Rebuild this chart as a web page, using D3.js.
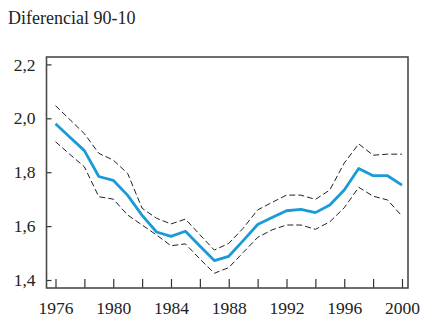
<!DOCTYPE html>
<html>
<head>
<meta charset="utf-8">
<script src="https://cdn.jsdelivr.net/npm/d3@7"></script>
<style>
  html, body { margin: 0; padding: 0; background: #fff; }
  svg { display: block; font-family: "Liberation Serif", "Times New Roman", serif; }
</style>
</head>
<body>
<svg id="chart" width="421" height="324"></svg>
<script>
// Years covered by the series
const years = [1976, 1977, 1978, 1979, 1980, 1981, 1982, 1983, 1984, 1985, 1986, 1987, 1988,
               1989, 1990, 1991, 1992, 1993, 1994, 1995, 1996, 1997, 1998, 1999, 2000];

// 90-10 differential (central estimate)
const central = [1.980, 1.930, 1.880, 1.784, 1.770, 1.714, 1.640, 1.578, 1.562, 1.581, 1.526, 1.472, 1.488,
                 1.546, 1.606, 1.632, 1.657, 1.662, 1.650, 1.678, 1.734, 1.814, 1.787, 1.787, 1.752];

// Upper confidence bound
const upper = [2.047, 1.995, 1.943, 1.870, 1.845, 1.795, 1.666, 1.629, 1.608, 1.626, 1.568, 1.511, 1.536,
               1.592, 1.660, 1.688, 1.715, 1.715, 1.699, 1.734, 1.834, 1.905, 1.863, 1.867, 1.867];

// Lower confidence bound
const lower = [1.913, 1.866, 1.820, 1.709, 1.700, 1.641, 1.604, 1.567, 1.527, 1.534, 1.478, 1.425, 1.446,
               1.502, 1.558, 1.586, 1.604, 1.604, 1.588, 1.616, 1.668, 1.744, 1.711, 1.697, 1.637];

const xTicks = [1976, 1978, 1980, 1982, 1984, 1986, 1988, 1990, 1992, 1994, 1996, 1998, 2000];
const xLabelled = [1976, 1980, 1984, 1988, 1992, 1996, 2000];
const yTicks = [1.4, 1.6, 1.8, 2.0, 2.2];

const svg = d3.select("#chart");

const frame = { left: 46.5, right: 408, top: 57, bottom: 288 };

const x = d3.scaleLinear().domain([1976, 2000]).range([55.5, 402]);
const y = d3.scaleLinear().domain([1.4, 2.2]).range([280, 64.4]);

// Title
svg.append("text")
  .attr("x", 8)
  .attr("y", 24)
  .attr("font-size", 18)
  .attr("fill", "#222")
  .text("Diferencial 90-10");

// Bottom axis: ticks pointing inward, labels every four years
const xAxis = d3.axisBottom(x)
  .tickValues(xTicks)
  .tickSizeInner(-9)
  .tickSizeOuter(0)
  .tickPadding(14)
  .tickFormat(d => xLabelled.includes(d) ? String(d) : "");

const gx = svg.append("g")
  .attr("transform", `translate(0,${frame.bottom})`)
  .call(xAxis);
gx.select(".domain").remove();
gx.selectAll(".tick line").attr("stroke", "#333").attr("stroke-width", 1.2);
gx.selectAll(".tick text")
  .attr("font-size", 17.5)
  .attr("fill", "#222")
  .attr("font-family", "Liberation Serif, serif");

// Left axis: ticks pointing inward, comma decimal separator
const yAxis = d3.axisLeft(y)
  .tickValues(yTicks)
  .tickSizeInner(-5)
  .tickSizeOuter(0)
  .tickPadding(11)
  .tickFormat(d => d3.format(".1f")(d).replace(".", ","));

const gy = svg.append("g")
  .attr("transform", `translate(${frame.left},0)`)
  .call(yAxis);
gy.select(".domain").remove();
gy.selectAll(".tick line").attr("stroke", "#333").attr("stroke-width", 1.2);
gy.selectAll(".tick text")
  .attr("font-size", 17.5)
  .attr("fill", "#222")
  .attr("font-family", "Liberation Serif, serif");

// Plot frame
svg.append("rect")
  .attr("x", frame.left)
  .attr("y", frame.top)
  .attr("width", frame.right - frame.left)
  .attr("height", frame.bottom - frame.top)
  .attr("fill", "none")
  .attr("stroke", "#4a4a4a")
  .attr("stroke-width", 1.6);

const line = d3.line()
  .x(d => x(d[0]))
  .y(d => y(d[1]));

const pairs = vals => years.map((yr, i) => [yr, vals[i]]);

// Confidence bounds (dashed)
[upper, lower].forEach(series => {
  svg.append("path")
    .datum(pairs(series))
    .attr("d", line)
    .attr("fill", "none")
    .attr("stroke", "#222")
    .attr("stroke-width", 1)
    .attr("stroke-dasharray", "6,3");
});

// Central estimate
svg.append("path")
  .datum(pairs(central))
  .attr("d", line)
  .attr("fill", "none")
  .attr("stroke", "#1b9ad8")
  .attr("stroke-width", 2.8)
  .attr("stroke-linejoin", "round");
</script>
</body>
</html>
